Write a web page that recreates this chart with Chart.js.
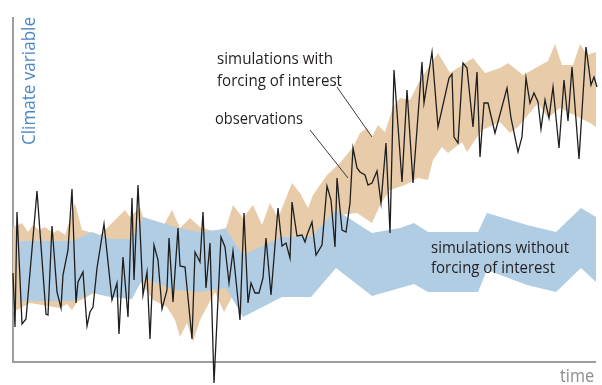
<!DOCTYPE html>
<html>
<head>
<meta charset="utf-8">
<script src="https://cdn.jsdelivr.net/npm/chart.js@4.4.1/dist/chart.umd.min.js"></script>
<style>
  html, body { margin: 0; padding: 0; background: #fff; }
  #wrap { width: 602px; height: 385px; position: relative; }
</style>
</head>
<body>
<div id="wrap"><canvas id="chart"></canvas></div>
<script>
// observations (time step, climate variable, arbitrary units)
var obsTime = [
    0, 2, 4, 9, 13, 24, 33, 35, 39, 44,
    48, 50, 55, 59, 63, 65, 70, 74, 77, 80,
    84, 91, 99, 104, 106, 110, 115, 119, 121, 125,
    130, 134, 137, 141, 145, 149, 154, 156, 160, 165,
    167, 172, 179, 182, 187, 190, 193, 197, 201, 208,
    212, 216, 220, 227, 231, 235, 238, 242, 246, 250,
    253, 258, 265, 269, 273, 277, 279, 284, 289, 292,
    294, 299, 303, 309, 314, 318, 322, 324, 329, 333,
    337, 340, 344, 347, 352, 355, 359, 364, 368, 373,
    377, 381, 389, 394, 400, 409, 411, 419, 425, 436,
    439, 441, 445, 450, 454, 460, 464, 467, 471, 475,
    482, 494, 498, 505, 509, 513, 517, 521, 525, 528,
    532, 536, 540, 546, 551, 555, 559, 566, 573, 578,
    581, 584
];
var obsValue = [
    89, 35, 150, 38, 43, 171, 48, 47, 136, 70,
    54, 87, 112, 173, 59, 80, 90, 36, 50, 55,
    94, 138, 62, 79, 28, 105, 45, 164, 82, 177,
    67, 90, 23, 117, 102, 53, 72, 124, 60, 134,
    96, 95, 23, 110, 100, 150, 74, 119, -21, 125,
    115, 79, 111, 42, 149, 59, 79, 69, 69, 84,
    124, 67, 154, 116, 119, 104, 160, 126, 127, 120,
    127, 140, 107, 117, 176, 162, 115, 184, 132, 130,
    159, 214, 194, 190, 187, 177, 179, 191, 159, 219,
    129, 292, 180, 272, 179, 300, 259, 310, 235, 284,
    288, 225, 219, 299, 294, 235, 290, 205, 259, 259,
    229, 274, 244, 210, 225, 284, 259, 269, 260, 233,
    262, 244, 275, 214, 282, 241, 295, 203, 315, 277,
    285, 275
];

// simulations without forcing of interest (range)
var noForcingTime = [7, 60, 79, 97, 119, 130, 162, 187, 213, 230, 269, 298, 323, 359, 387, 401, 415, 465, 474, 514, 543, 568, 583];
var noForcingHigh = [121, 121, 130, 123, 123, 145, 135, 130, 133, 107, 125, 125, 152, 129, 134, 139, 130, 130, 149, 137, 130, 154, 145];
var noForcingLow = [61, 61, 69, 65, 63, 84, 72, 70, 74, 45, 65, 65, 94, 66, 74, 78, 70, 70, 92, 77, 70, 94, 80];

// simulations with forcing of interest (range)
var forcingHighTime = [
    0, 9, 15, 20, 26, 32, 40, 45, 52, 62,
    69, 87, 112, 117, 127, 134, 147, 159, 167, 177,
    187, 200, 213, 220, 230, 240, 249, 257, 265, 279,
    287, 295, 300, 314, 327, 340, 347, 354, 359, 365,
    372, 380, 387, 397, 407, 425, 437, 460, 472, 487,
    495, 510, 535, 542, 549, 560, 567, 574, 583
];
var forcingHigh = [
    135, 139, 130, 137, 132, 135, 129, 132, 127, 159,
    132, 127, 152, 145, 155, 132, 130, 152, 134, 144,
    135, 131, 134, 157, 144, 157, 137, 159, 144, 179,
    169, 154, 167, 187, 199, 215, 229, 234, 225, 237,
    230, 255, 264, 262, 282, 309, 289, 304, 289, 294,
    299, 287, 301, 318, 297, 297, 318, 307, 310
];
var forcingLowTime = [
    0, 17, 47, 54, 59, 64, 87, 119, 125, 140,
    154, 162, 167, 174, 180, 187, 202, 211, 219, 232,
    267, 297, 327, 344, 359, 367, 377, 392, 405, 415,
    420, 429, 435, 449, 454, 469, 487, 497, 505, 525,
    535, 547, 567, 577, 583
];
var forcingLow = [
    50, 59, 54, 58, 52, 60, 72, 72, 84, 62,
    55, 42, 25, 39, 20, 42, 70, 50, 65, 77,
    112, 122, 147, 149, 139, 157, 172, 177, 184, 182,
    202, 215, 209, 220, 210, 232, 240, 229, 235, 259,
    244, 254, 244, 239, 235
];

// leader lines from the labels to the curves
var leaderForcing = [[324, 275], [359, 225]];
var leaderObs = [[297, 232], [335, 184]];

var TAN = '#e8ccaa';
var BLUE = '#b1cde3';
var FONT = "'Open Sans', 'Noto Sans', sans-serif";

function zip(xs, ys) {
    return xs.map(function (x, i) { return { x: x, y: ys[i] }; });
}
function pairs(list) {
    return list.map(function (p) { return { x: p[0], y: p[1] }; });
}

var notes = [
    { text: 'simulations with', t: 204, v: 298, w: 116 },
    { text: 'forcing of interest', t: 204, v: 276, w: 125 },
    { text: 'observations', t: 202, v: 238, w: 88 },
    { text: 'simulations without', t: 418, v: 109, w: 138 },
    { text: 'forcing of interest', t: 418, v: 89, w: 124 }
];

var decor = {
    id: 'decor',
    beforeDatasetsDraw: function (chart) {
        var ctx = chart.ctx, a = chart.chartArea;
        ctx.save();
        ctx.strokeStyle = '#9d9d9d';
        ctx.lineWidth = 2;
        ctx.beginPath();
        ctx.moveTo(a.left, a.top);
        ctx.lineTo(a.left, a.bottom);
        ctx.lineTo(a.right, a.bottom);
        ctx.stroke();
        ctx.restore();
    },
    afterDatasetsDraw: function (chart) {
        var ctx = chart.ctx, a = chart.chartArea;
        var xs = chart.scales.x, ys = chart.scales.y;
        ctx.save();
        ctx.fillStyle = '#231f20';
        ctx.font = '17px ' + FONT;
        ctx.textAlign = 'left';
        ctx.textBaseline = 'alphabetic';
        notes.forEach(function (n) {
            ctx.fillText(n.text, xs.getPixelForValue(n.t), ys.getPixelForValue(n.v), n.w);
        });

        ctx.fillStyle = '#8c8c8c';
        ctx.font = '18px ' + FONT;
        ctx.textAlign = 'right';
        ctx.fillText('time', a.right - 2, a.bottom + 20, 34);

        ctx.translate(a.left + 22, a.top + 128);
        ctx.rotate(-Math.PI / 2);
        ctx.fillStyle = '#4a87c6';
        ctx.textAlign = 'left';
        ctx.font = '18px ' + FONT;
        ctx.fillText('Climate variable', 0, 0, 128);
        ctx.restore();
    }
};

var edge = { borderWidth: 0, pointRadius: 0, tension: 0, clip: false };

new Chart(document.getElementById('chart'), {
    type: 'line',
    data: {
        datasets: [
            { data: zip(obsTime, obsValue), borderColor: '#1e1e1e', borderWidth: 1.3,
              pointRadius: 0, tension: 0, fill: false, clip: false, order: 0 },
            { data: pairs(leaderForcing), borderColor: '#3a3a3a', borderWidth: 1,
              pointRadius: 0, fill: false, order: 0 },
            { data: pairs(leaderObs), borderColor: '#3a3a3a', borderWidth: 1,
              pointRadius: 0, fill: false, order: 0 },
            Object.assign({ data: zip(noForcingTime, noForcingHigh), fill: false, order: 1 }, edge),
            Object.assign({ data: zip(noForcingTime, noForcingLow), fill: '-1',
                            backgroundColor: BLUE, order: 1 }, edge),
            Object.assign({ data: zip(forcingHighTime, forcingHigh), fill: false, order: 2 }, edge),
            Object.assign({ data: zip(forcingLowTime, forcingLow), fill: '-1',
                            backgroundColor: TAN, order: 2 }, edge)
        ]
    },
    options: {
        responsive: true,
        maintainAspectRatio: false,
        animation: false,
        layout: { padding: { left: 13, top: 17, right: 6, bottom: 23 } },
        scales: {
            x: { type: 'linear', min: 0, max: 583, display: false },
            y: { min: 0, max: 345, display: false }
        },
        plugins: {
            legend: { display: false },
            tooltip: { enabled: false }
        }
    },
    plugins: [decor]
});
</script>
</body>
</html>
